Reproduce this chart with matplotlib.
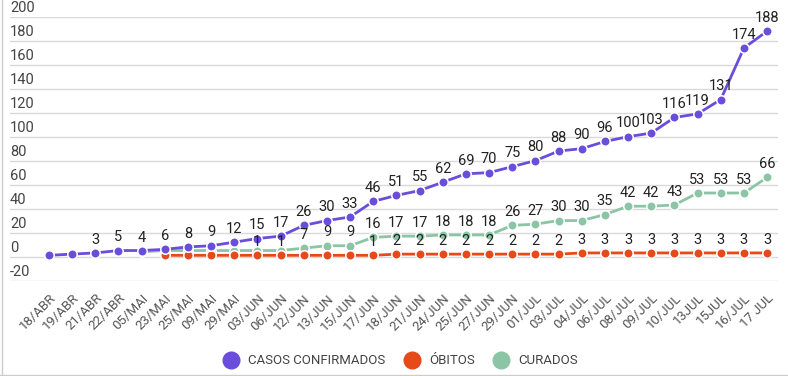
import numpy as np
import matplotlib.pyplot as plt
from matplotlib.lines import Line2D

plt.rcParams['font.family'] = ['Roboto', 'DejaVu Sans']

datas = ["18/ABR", "19/ABR", "21/ABR", "22/ABR", "05/MAI", "23/MAI", "25/MAI", "09/MAI",
         "29/MAI", "03/JUN", "06/JUN", "12/JUN", "13/JUN", "15/JUN", "17/JUN", "18/JUN",
         "21/JUN", "24/JUN", "25/JUN", "27/JUN", "29/JUN", "01/JUL", "03/JUL", "04/JUL",
         "06/JUL", "08/JUL", "09/JUL", "10/JUL", "13JUL", "15JUL", "16/JUL", "17 JUL"]

casos = [1, 2, 3, 5, 5, 6, 8, 9, 12, 15, 17, 26, 30, 33, 46, 51, 55, 62, 69, 70, 75, 80,
         88, 90, 96, 100, 103, 116, 119, 131, 174, 188]
obitos = [None, None, None, None, None, 1, 1, 1, 1, 1, 1, 1, 1, 1, 1, 2, 2, 2, 2, 2, 2, 2,
          2, 3, 3, 3, 3, 3, 3, 3, 3, 3]
curados = [None, None, None, None, 4, 5, 5, 5, 5, 5, 5, 7, 9, 9, 16, 17, 17, 18, 18, 18, 26, 27,
           30, 30, 35, 42, 42, 43, 53, 53, 53, 66]

# which points get a value label (the original hides the overlapping ones)
casos_lbl = [i for i in range(len(datas)) if i not in (0, 1, 4)]
obitos_lbl = [9, 10] + list(range(14, len(datas)))
curados_lbl = [4] + list(range(11, len(datas)))

series = [
    ("CASOS CONFIRMADOS", casos, casos_lbl, "#6a4ddb"),
    ("ÓBITOS", obitos, obitos_lbl, "#e64a19"),
    ("CURADOS", curados, curados_lbl, "#8cc5a5"),
]

fig = plt.figure(figsize=(7.88, 3.76), dpi=100)
ax = fig.add_axes([10 / 788, 1 - 280.5 / 376, 768 / 788, 263.7 / 376])

x = np.arange(len(datas))
for nome, vals, lbl, cor in series[::-1]:
    y = np.array([np.nan if v is None else v for v in vals], dtype=float)
    ax.plot(x, y, color=cor, lw=2, marker='o', ms=6.8, mec='white', mew=1.1, zorder=3)
    for i in lbl:
        ax.annotate(str(vals[i]), (x[i], y[i]), xytext=(0, 4.5), textcoords='offset points',
                    ha='center', va='bottom', fontsize=10.5, color='#222222', zorder=4)

ax.set_ylim(-20, 200)
ax.set_xlim(-1.68, 31.47)
yt = np.arange(-20, 201, 20)
ax.set_yticks(yt)
ax.yaxis.grid(True, color='#d9d9d9', lw=1)
ax.set_axisbelow(True)
ax.tick_params(axis='y', length=0, labelleft=False)
for v in yt:
    ax.text(0.0, v + 1.5, str(v), transform=ax.get_yaxis_transform(), ha='left', va='bottom',
            fontsize=10.5, color='#444444')

ax.set_xticks(x)
ax.set_xticklabels(datas, rotation=45, ha='right', rotation_mode='anchor',
                   fontsize=9.5, color='#555555')
ax.tick_params(axis='x', length=0, pad=8)
for s in ax.spines.values():
    s.set_visible(False)

handles = [Line2D([], [], ls='none', marker='o', ms=12, color=c, label=n) for n, _, _, c in series]
fig.legend(handles=handles, loc='center', bbox_to_anchor=(0.505, 1 - 361 / 376), ncol=3,
           frameon=False, fontsize=9.5, handletextpad=0.3, columnspacing=1.0,
           labelcolor='#444444')

fig.add_artist(Line2D([0.002, 0.002], [0, 1], color='#cccccc', lw=1))
fig.add_artist(Line2D([0, 1], [0.002, 0.002], color='#cccccc', lw=1))

fig.savefig("out.png", dpi=100)
